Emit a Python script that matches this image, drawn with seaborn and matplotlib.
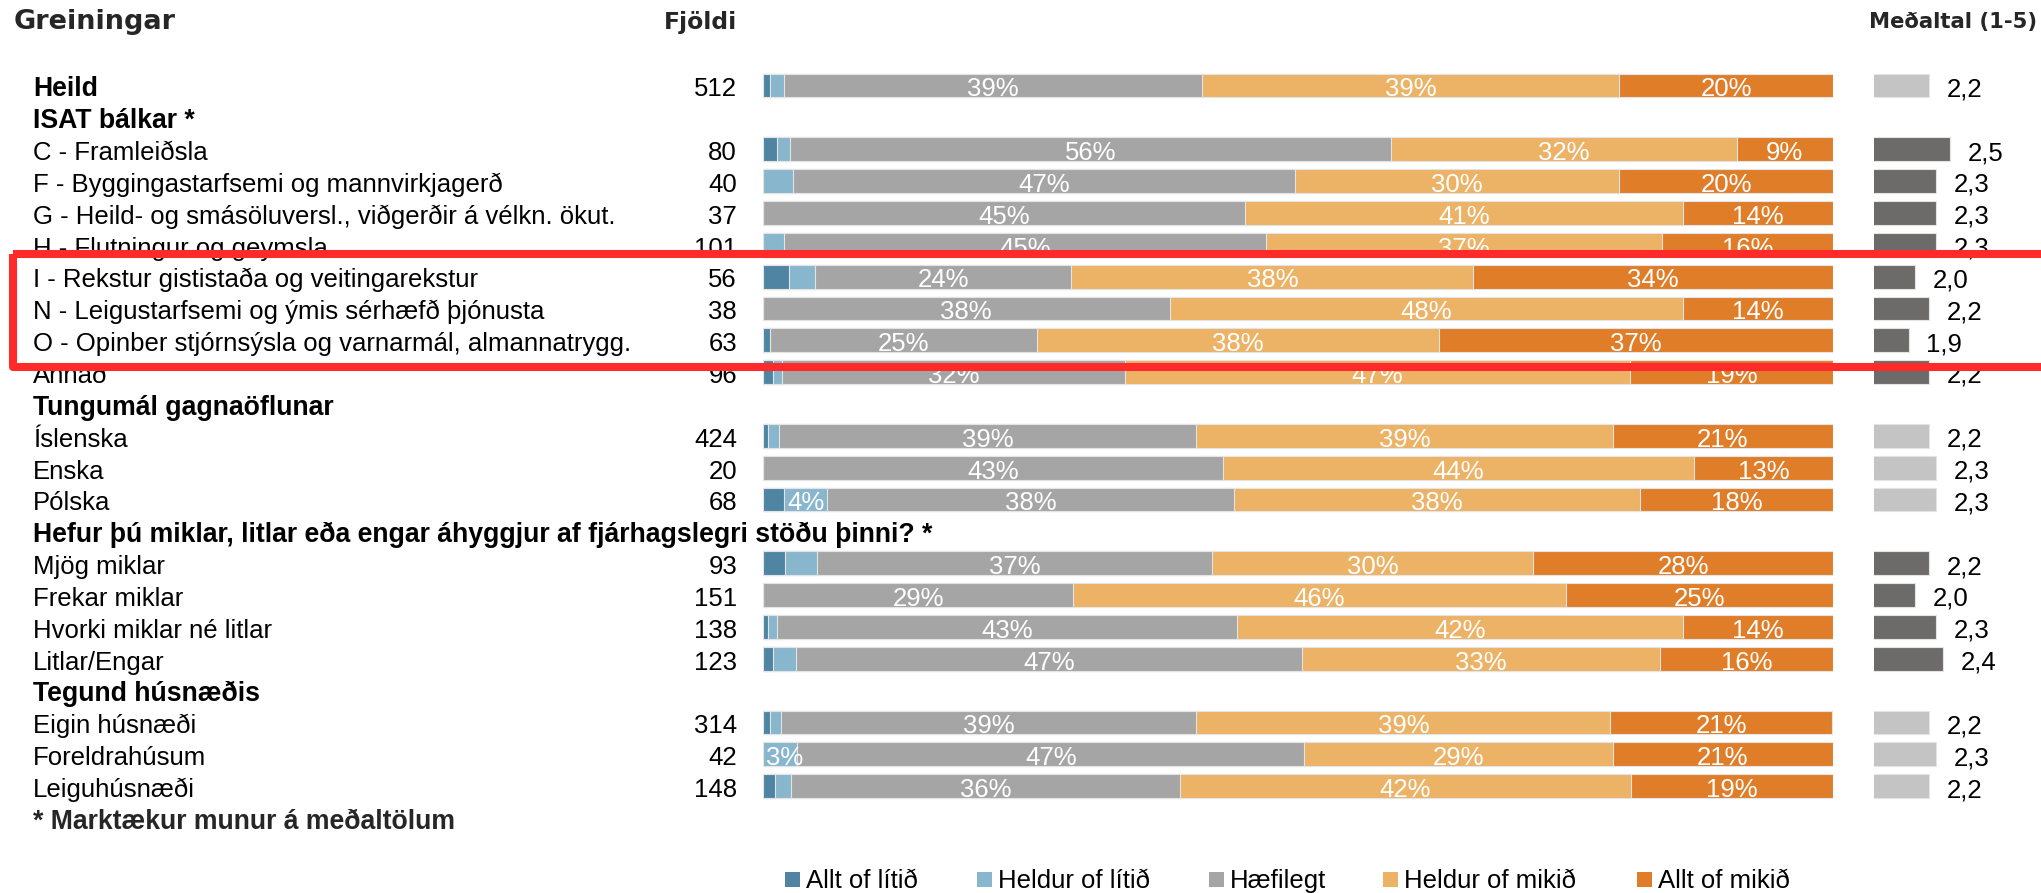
import matplotlib
matplotlib.use("Agg")
import matplotlib.pyplot as plt
from matplotlib import transforms
from matplotlib.patches import Rectangle
import numpy as np
import pandas as pd
import seaborn as sns

# ---------------------------------------------------------------- data
labels = [
    "Heild",
    "C - Framleiðsla",
    "F - Byggingastarfsemi og mannvirkjagerð",
    "G - Heild- og smásöluversl., viðgerðir á vélkn. ökut.",
    "H - Flutningur og geymsla",
    "I - Rekstur gististaða og veitingarekstur",
    "N - Leigustarfsemi og ýmis sérhæfð þjónusta",
    "O - Opinber stjórnsýsla og varnarmál, almannatrygg.",
    "Annað",
    "Íslenska",
    "Enska",
    "Pólska",
    "Mjög miklar",
    "Frekar miklar",
    "Hvorki miklar né litlar",
    "Litlar/Engar",
    "Eigin húsnæði",
    "Foreldrahúsum",
    "Leiguhúsnæði",
]
counts = [512, 80, 40, 37, 101, 56, 38, 63, 96, 424, 20, 68, 93, 151, 138, 123, 314, 42, 148]

# shares in percent
allt_litid   = [0.7, 1.3, 0.0, 0.0, 0.0, 2.4, 0.0, 0.7, 0.9, 0.5, 0.0, 2.0, 2.1, 0.0, 0.5, 0.9, 0.7, 0.0, 1.1]
heldur_litid = [1.3, 1.2, 2.8, 0.0, 2.0, 2.5, 0.0, 0.0, 0.9, 1.0, 0.0, 4.0, 2.9, 0.0, 0.8, 2.2, 1.0, 3.2, 1.5]
haefilegt    = [39.0, 56.2, 46.9, 45.0, 45.0, 23.9, 38.0, 24.9, 32.0, 39.0, 43.0, 38.0, 37.0, 29.0, 43.0, 47.3, 38.8, 47.4, 36.4]
heldur_mikid = [39.0, 32.3, 30.3, 41.0, 37.0, 37.6, 48.0, 37.6, 47.2, 38.9, 44.0, 38.0, 30.0, 46.0, 41.7, 33.4, 38.7, 28.8, 42.1]
allt_mikid   = [20.0, 9.0, 20.0, 14.0, 16.0, 33.6, 14.0, 36.8, 19.0, 20.6, 13.0, 18.0, 28.0, 25.0, 14.0, 16.2, 20.7, 20.6, 18.9]

means = [2.2, 2.5, 2.3, 2.3, 2.3, 2.0, 2.2, 1.9, 2.2, 2.2, 2.3, 2.3, 2.2, 2.0, 2.3, 2.4, 2.2, 2.3, 2.2]

section_titles = [
    "ISAT bálkar *",
    "Tungumál gagnaöflunar",
    "Hefur þú miklar, litlar eða engar áhyggjur af fjárhagslegri stöðu þinni? *",
    "Tegund húsnæðis",
]
section_sizes = [8, 3, 4, 3]

series_names = ["Allt of lítið", "Heldur of lítið", "Hæfilegt", "Heldur of mikið", "Allt of mikið"]
series_colors = ["#4F85A3", "#87B6CD", "#A5A5A5", "#ECB266", "#E07D29"]
mean_colors = {"marktaekt": "#6C6B69", "ekki": "#C4C4C4"}

footnote = "* Marktækur munur á meðaltölum"

# ---------------------------------------------------------------- layout of rows
row_order = [labels[0]]
row_kind = {labels[0]: "total"}
significance = ["ekki"]
i = 1
for title, n in zip(section_titles, section_sizes):
    row_order.append(title)
    row_kind[title] = "section"
    for lab in labels[i:i + n]:
        row_order.append(lab)
        row_kind[lab] = "item"
        significance.append("marktaekt" if title.endswith("*") else "ekki")
    i += n
row_pos = {lab: k for k, lab in enumerate(row_order)}

df = pd.DataFrame({
    "label": labels,
    "count": counts,
    "mean": means,
    "sig": significance,
})
seg_values = np.array([allt_litid, heldur_litid, haefilegt, heldur_mikid, allt_mikid], dtype=float)
cum = np.cumsum(seg_values, axis=0)

# ---------------------------------------------------------------- figure
sns.set_theme(style="white")
plt.rcParams["font.family"] = ["Liberation Sans", "DejaVu Sans"]

W, H = 2041, 893
fig = plt.figure(figsize=(W / 100, H / 100), dpi=100)
fig.patch.set_facecolor("white")

ROW0, PITCH = 85.5, 31.85          # pixel centre of first row and row pitch
y_top = -ROW0 / PITCH
y_bot = (H - ROW0) / PITCH

ax = fig.add_axes([763 / W, 0, (1833 - 763) / W, 1])
axm = fig.add_axes([1874 / W, 0, (W - 1874) / W, 1])

# stacked distribution bars (drawn from the widest cumulative layer down)
for k in range(4, -1, -1):
    d = df.assign(cum=cum[k])
    sns.barplot(data=d, x="cum", y="label", order=row_order, orient="h",
                color=series_colors[k], saturation=1, width=0.75, errorbar=None,
                edgecolor="#E4E4E4", linewidth=0.8, ax=ax)

# mean bars
sns.barplot(data=df, x="mean", y="label", order=row_order, orient="h",
            hue="sig", palette=mean_colors, dodge=False, legend=False,
            saturation=1, width=0.75, errorbar=None,
            edgecolor="#E4E4E4", linewidth=0.8, ax=axm)

for a in (ax, axm):
    a.set_ylim(y_bot, y_top)
    a.axis("off")
ax.set_xlim(0, 100)
axm.set_xlim(1.4, 1.4 + (W - 1874) / 69.0)

FS = 18.5
BASE = 0.34   # baseline offset of text below the row centre

# percentage labels inside the bars (kept clear of the bar's left end)
for r, lab in enumerate(labels):
    y = row_pos[lab] + BASE
    for k in range(5):
        v = seg_values[k, r]
        if v >= 3:
            xc = max(cum[k, r] - v / 2, 2.0)
            ax.text(xc, y, f"{v:.0f}%", ha="center", va="baseline",
                    color="white", fontsize=FS)

# mean value labels
for r, lab in enumerate(labels):
    axm.annotate(f"{means[r]:.1f}".replace(".", ","), xy=(means[r], row_pos[lab] + BASE),
                 xytext=(17.5, 0), textcoords="offset pixels",
                 ha="left", va="baseline", fontsize=FS, color="black",
                 annotation_clip=False)

# row labels and counts
tr = transforms.blended_transform_factory(fig.transFigure, ax.transData)
for lab in row_order:
    y = row_pos[lab] + BASE
    kind = row_kind[lab]
    bold = kind in ("total", "section")
    ax.text(33 / W, y, lab, transform=tr, ha="left", va="baseline",
            fontsize=FS + (0.7 if bold else 0), fontweight="bold" if bold else "normal",
            color="black", clip_on=False)
for lab, n in zip(labels, counts):
    ax.text(737 / W, row_pos[lab] + BASE, str(n), transform=tr, ha="right",
            va="baseline", fontsize=FS, color="black", clip_on=False)

ax.text(33 / W, len(row_order) + BASE, footnote, transform=tr, ha="left",
        va="baseline", fontsize=FS + 0.7, fontweight="bold", clip_on=False)

# column headers
hy = -1.76
ax.text(14 / W, hy, "Greiningar", transform=tr, ha="left", va="baseline",
        fontsize=19.5, fontweight="bold", family=["DejaVu Sans"], clip_on=False)
ax.text(737 / W, hy, "Fjöldi", transform=tr, ha="right", va="baseline",
        fontsize=16.9, fontweight="bold", family=["DejaVu Sans"], clip_on=False)
ax.text(1869 / W, hy - 0.04, "Meðaltal (1-5)", transform=tr, ha="left", va="baseline",
        fontsize=15.2, fontweight="bold", family=["DejaVu Sans"], clip_on=False)

# legend
legend_x = [785, 977, 1209, 1383, 1637]
for x0, name, col in zip(legend_x, series_names, series_colors):
    fig.patches.append(Rectangle((x0 / W, 1 - 887 / H), 14.5 / W, 15 / H,
                                 transform=fig.transFigure, facecolor=col,
                                 edgecolor="none", zorder=5))
    fig.text((x0 + 21) / W, 1 - 888 / H, name, ha="left", va="baseline",
             fontsize=FS, color="black")

# highlight frame around rows I, N and O
top = row_pos[labels[5]] - 0.71
bottom = row_pos[labels[7]] + 0.84
frame = Rectangle((13 / W, top), 1.05 - 13 / W, bottom - top, transform=tr,
                  facecolor="none", edgecolor="#FF2B2B", linewidth=5.8,
                  joinstyle="round", zorder=20, clip_on=False)
fig.add_artist(frame)

fig.savefig("out.png", dpi=100, facecolor="white")
